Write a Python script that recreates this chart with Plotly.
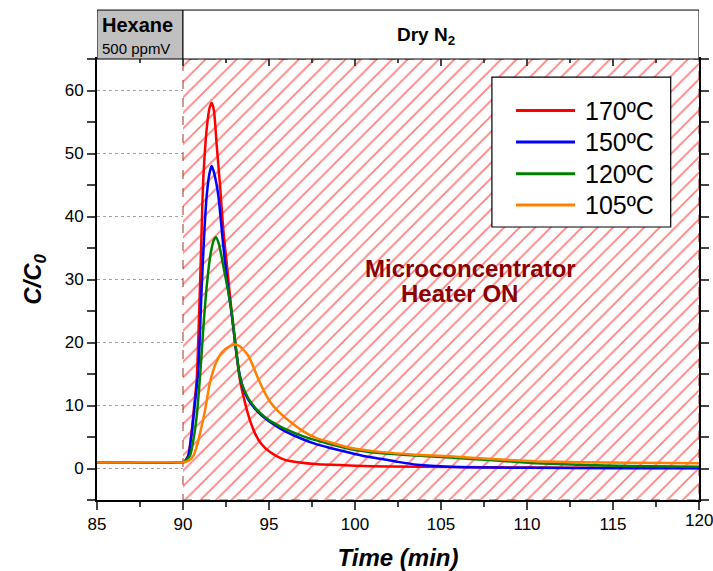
import plotly.graph_objects as go

# ---------------- data ----------------
t_170 = [85, 86, 87, 88, 89, 90, 90.3, 90.5, 90.65, 90.8, 91.0, 91.18, 91.4, 91.55, 91.67, 91.8,
         91.96, 92.15, 92.34, 92.6, 92.83, 93.05, 93.3, 93.6, 93.9, 94.2, 94.5, 95.06, 95.8,
         96.2, 97.7, 98.1, 100, 102, 105.5, 110, 115, 120]
v_170 = [0.95, 0.95, 0.95, 1.0, 1.0, 0.95, 2.0, 5.8, 10.0, 14.2, 30, 46, 54.5, 57.3, 58.0, 56.8,
         51.3, 45, 38, 31, 24.8, 19.5, 14.2, 10.5, 7.6, 5.5, 4.1, 2.6, 1.5,
         1.2, 0.7, 0.64, 0.45, 0.3, 0.25, 0.15, 0.1, 0.08]

t_150 = [85, 86, 87, 88, 89, 90, 90.3, 90.5, 90.7, 90.89, 91.09, 91.25, 91.38, 91.55, 91.67, 91.8,
         92.05, 92.34, 92.6, 92.83, 93.05, 93.3, 93.6, 94.0, 94.5, 95.0, 95.5, 96.0, 97.0,
         97.7, 98.5, 99.7, 100.5, 101.6, 102.5, 103.6, 105.5, 108, 110, 115, 120]
v_150 = [0.95, 0.95, 0.95, 1.0, 1.0, 0.95, 2.0, 5.5, 10.5, 15.5, 29, 38, 43.4, 47, 48.0, 47,
         43.4, 35.4, 29, 24.5, 19.5, 14.8, 12.0, 10.1, 8.6, 7.5, 6.6, 5.8, 4.6,
         3.9, 3.3, 2.5, 2.0, 1.5, 1.05, 0.6, 0.28, 0.15, 0.1, 0.05, 0.05]

t_120 = [85, 86, 87, 88, 89, 90, 90.4, 90.6, 90.8, 91.0, 91.2, 91.4, 91.6, 91.8, 91.92, 92.1,
         92.34, 92.6, 92.83, 93.05, 93.3, 93.6, 94.0, 94.5, 95.0, 95.5, 96.0, 97.0, 97.7,
         98.5, 99.7, 101.6, 103.5, 105.5, 108, 110.5, 113, 116, 120]
v_120 = [0.95, 0.95, 0.95, 1.0, 1.0, 0.95, 2.0, 4.5, 8.4, 15, 23, 29.5, 34, 36.3, 36.7, 35.5,
         32.2, 28.5, 24.8, 19.8, 14.6, 12.2, 10.3, 8.8, 7.7, 6.9, 6.2, 5.1, 4.5,
         3.9, 3.1, 2.4, 2.05, 1.75, 1.3, 0.85, 0.6, 0.4, 0.27]

t_105 = [85, 86, 87, 88, 89, 90, 90.3, 90.6, 90.85, 91.09, 91.3, 91.57, 91.94, 92.2, 92.44, 92.7,
         93.02, 93.3, 93.8, 94.38, 94.65, 95.06, 95.5, 96.2, 97.0, 97.7, 98.5, 99.7, 101.6,
         103.5, 105.5, 108, 110.5, 113, 116, 120]
v_105 = [0.95, 0.95, 0.95, 1.0, 1.0, 0.95, 1.2, 2.0, 4.0, 6.8, 9.5, 13.7, 16.9, 18.2, 18.9, 19.4,
         19.7, 19.4, 17.9, 14.2, 12.6, 10.6, 9.2, 7.5, 5.9, 4.9, 4.2, 3.3, 2.6,
         2.2, 1.95, 1.5, 1.15, 1.0, 0.9, 0.85]

series_names = ["170ºC", "150ºC", "120ºC", "105ºC"]
series_colors = ["#ff0000", "#0000ff", "#008000", "#ff8000"]

heater_x = [90, 120]
y_range = [-5, 65]
x_range = [85, 120]
last_x_tick = 120

# ---------------- figure ----------------
fig = go.Figure()

# hatched "heater on" region
fig.add_trace(go.Scatter(
    x=[heater_x[0], heater_x[1], heater_x[1], heater_x[0], heater_x[0]],
    y=[y_range[0], y_range[0], y_range[1], y_range[1], y_range[0]],
    mode="lines", fill="toself",
    fillcolor="rgba(0,0,0,0)",
    fillpattern=dict(shape="/", fgcolor="#ff0000", bgcolor="white", size=11, solidity=0.16),
    line=dict(color="#a03030", width=1, dash="dash"),
    hoverinfo="skip", showlegend=False,
))

for t, v, name, col in zip([t_170, t_150, t_120, t_105], [v_170, v_150, v_120, v_105],
                           series_names, series_colors):
    fig.add_trace(go.Scatter(x=t, y=v, mode="lines", name=name, showlegend=False,
                             line=dict(color=col, width=2.5, shape="spline", smoothing=0.6)))

# dummy trace for a top axis with inward ticks
fig.add_trace(go.Scatter(x=[85], y=[0], xaxis="x2", mode="markers",
                         marker=dict(opacity=0), showlegend=False, hoverinfo="skip"))

font_family = "Liberation Sans, Arial, sans-serif"

fig.update_layout(
    width=713, height=571,
    margin=dict(l=97, r=14, t=59, b=71, autoexpand=False),
    paper_bgcolor="white", plot_bgcolor="white",
    font=dict(family=font_family, color="black", size=17),
    xaxis=dict(range=x_range, dtick=5, tick0=85, ticks="outside", ticklen=8, tickwidth=1.5,
               showline=True, linecolor="black", linewidth=2, mirror=True,
               showgrid=False, zeroline=False, automargin=False,
               minor=dict(dtick=2.5, ticks="outside", ticklen=5, tickwidth=1.5),
               tickfont=dict(size=17),
               title=dict(text="<b><i>Time (min)</i></b>", font=dict(size=24), standoff=16)),
    xaxis2=dict(range=x_range, overlaying="x", side="top", dtick=5, tick0=85,
                ticks="inside", ticklen=7, tickwidth=1.5, showticklabels=False,
                showgrid=False, zeroline=False, showline=False, automargin=False,
                minor=dict(dtick=2.5, ticks="inside", ticklen=4, tickwidth=1.5)),
    yaxis=dict(range=y_range, dtick=10, tick0=0, ticks="outside", ticklen=8, tickwidth=1.5,
               showline=True, linecolor="black", linewidth=2, mirror="allticks",
               showgrid=True, gridcolor="#a0a0a0", griddash="dot", gridwidth=1,
               zeroline=False, automargin=False,
               minor=dict(dtick=5, ticks="outside", ticklen=5, tickwidth=1.5),
               tickfont=dict(size=17),
               title=dict(text="<b><i>C/C<sub>0</sub></i></b>", font=dict(size=24), standoff=16)),
    showlegend=False,
)

# last x tick label, which sits on the right edge of the page
fig.add_annotation(x=last_x_tick, y=0, xref="x", yref="paper", xanchor="center", yanchor="top",
                   yshift=-9, text=str(last_x_tick), showarrow=False, font=dict(size=17))

# banner on top
fig.add_shape(type="rect", xref="x", yref="paper", x0=85, x1=90, y0=1.0, y1=1.111,
              fillcolor="#c0c0c0", line=dict(color="black", width=1), layer="above")
fig.add_shape(type="rect", xref="x", yref="paper", x0=90, x1=120, y0=1.0, y1=1.111,
              fillcolor="white", line=dict(color="black", width=1), layer="above")

fig.add_annotation(x=85.2, y=1.077, xref="x", yref="paper", xanchor="left", yanchor="middle",
                   text="<b>Hexane</b>", showarrow=False, font=dict(size=20))
fig.add_annotation(x=85.2, y=1.024, xref="x", yref="paper", xanchor="left", yanchor="middle",
                   text="500 ppmV", showarrow=False, font=dict(size=15))
fig.add_annotation(x=104.1, y=1.052, xref="x", yref="paper", xanchor="center", yanchor="middle",
                   text="<b>Dry N<sub>2</sub></b>", showarrow=False, font=dict(size=19))

fig.add_annotation(x=106.69, y=31.7, xref="x", yref="y", xanchor="center", yanchor="middle",
                   text="<b>Microconcentrator</b>", showarrow=False,
                   font=dict(size=24, color="#8b0000"))
fig.add_annotation(x=106.05, y=27.7, xref="x", yref="y", xanchor="center", yanchor="middle",
                   text="<b>Heater ON</b>", showarrow=False,
                   font=dict(size=24, color="#8b0000"))

# legend box (paper coordinates)
leg_x0, leg_x1, leg_y0, leg_y1 = 0.656, 0.953, 0.619, 0.959
fig.add_shape(type="rect", xref="paper", yref="paper", x0=leg_x0, x1=leg_x1, y0=leg_y0, y1=leg_y1,
              fillcolor="white", line=dict(color="black", width=1.2), layer="above")
row_y = [0.883, 0.812, 0.740, 0.669]
for ry, name, col in zip(row_y, series_names, series_colors):
    fig.add_shape(type="line", xref="paper", yref="paper", x0=0.696, x1=0.794, y0=ry, y1=ry,
                  line=dict(color=col, width=3), layer="above")
    fig.add_annotation(x=0.807, y=ry, xref="paper", yref="paper", xanchor="left",
                       yanchor="middle", text=name, showarrow=False, font=dict(size=25))

fig.write_html("out.html")
